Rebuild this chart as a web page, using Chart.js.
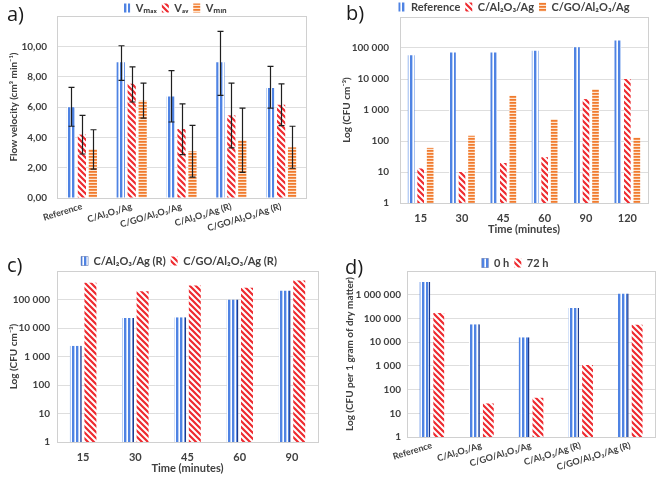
<!DOCTYPE html>
<html><head><meta charset="utf-8">
<script src="https://cdn.jsdelivr.net/npm/chart.js@4.4.1/dist/chart.umd.min.js"></script>
<style>
body{margin:0;background:#fff;width:661px;height:480px;position:relative;overflow:hidden}
canvas{position:absolute}
.pl{position:absolute;font-family:"Open Sans",sans-serif;font-size:20px;line-height:20px;color:#1a1a1a}
</style></head><body>
<canvas id="ca" width="330" height="240" style="left:0;top:0"></canvas>
<canvas id="cb" width="331" height="240" style="left:330px;top:0"></canvas>
<canvas id="cc" width="330" height="240" style="left:0;top:240px"></canvas>
<canvas id="cd" width="331" height="240" style="left:330px;top:240px"></canvas>
<div class="pl" style="left:7px;top:4px">a)</div>
<div class="pl" style="left:346px;top:3px">b)</div>
<div class="pl" style="left:7px;top:255px">c)</div>
<div class="pl" style="left:345px;top:257px">d)</div>
<script>
// ---- data ----
const catsA = ['Reference','C/Al₂O₃/Ag','C/GO/Al₂O₃/Ag','C/Al₂O₃/Ag (R)','C/GO/Al₂O₃/Ag (R)'];
const vmax     = [5.98, 8.95, 6.70, 8.95, 7.25];
const vmaxLow  = [4.73, 7.76, 5.01, 6.77, 5.93];
const vmaxHigh = [7.30, 10.04, 8.40, 10.99, 8.68];
const vav      = [4.18, 7.54, 4.55, 5.45, 6.15];
const vavLow   = [2.90, 6.33, 2.86, 3.30, 4.77];
const vavHigh  = [5.45, 8.64, 6.20, 7.58, 7.52];
const vmin     = [3.23, 6.42, 3.08, 3.80, 3.34];
const vminLow  = [1.91, 5.27, 1.38, 1.69, 1.96];
const vminHigh = [4.50, 7.58, 4.79, 5.93, 4.73];
const ticksA = [0, 2, 4, 6, 8, 10];

const timesB = ['15','30','45','60','90','120'];
const refB = [58000, 72000, 72000, 82000, 105000, 173000];
const alB  = [13, 10, 19.5, 30, 2250, 10000];
const goB  = [60, 148, 2900, 510, 4750, 130];

const timesC = ['15','30','45','60','90'];
const alRC = [2400, 22600, 23800, 100000, 208000];
const goRC = [385000, 196000, 310000, 257000, 466000];

const catsD = ['Reference','C/Al₂O₃/Ag','C/GO/Al₂O₃/Ag','C/Al₂O₃/Ag (R)','C/GO/Al₂O₃/Ag (R)'];
const h0D  = [3400000, 57000, 16200, 275000, 1120000];
const h72D = [168000, 26, 45, 1090, 54000];

const logTicks6 = [1, 10, 100, 1000, 10000, 100000, 1000000];
const logTicks7 = [1, 10, 100, 1000, 10000, 100000, 1000000, 10000000];

// ---- styles ----
const FONT = 'Lato, "Open Sans", sans-serif';
const TXT = '#404040';
const GRID = '#dedede';
function tile(w, h, fn){const c=document.createElement('canvas');c.width=w;c.height=h;const g=c.getContext('2d');fn(g,w,h);return g.createPattern(c,'repeat');}
const blueP = tile(4,1,g=>{['#4f83e3','#4f83e3','#b9cff5','#ffffff'].forEach((c,i)=>{g.fillStyle=c;g.fillRect(i,0,1,1);});});
const redP = tile(6,6,(g,w,h)=>{g.fillStyle='#fff';g.fillRect(0,0,w,h);g.strokeStyle='#ee2a2f';g.lineWidth=2.2;g.beginPath();for(const o of [-6,0,6]){g.moveTo(o-1,-1);g.lineTo(o+7,7);}g.stroke();});
const orP = tile(1,3,g=>{['#f07b2e','#f49455','#fde6d3'].forEach((c,i)=>{g.fillStyle=c;g.fillRect(0,i,1,1);});});

const fmt = v => String(v).replace(/\B(?=(\d{3})+(?!\d))/g,' ');

const frame = {id:'frame', beforeDatasetsDraw(c){const a=c.chartArea,x=c.ctx;x.save();x.strokeStyle='#d0d0d0';x.lineWidth=1;x.strokeRect(Math.round(a.left)+0.5,Math.round(a.top)+0.5,Math.round(a.right-a.left),Math.round(a.bottom-a.top));x.restore();}};
const legendPos = {id:'legendPos',
  beforeLayout(c){const l=c.legend;if(l&&!l._patched){const f=l.fit;l.fit=function(){f.call(this);this.height=0;};l._patched=true;}},
  afterLayout(c,args,o){const l=c.legend;if(!l||o.cx==null)return;const dx=o.cx-(l.left+l.right)/2;l.left+=dx;l.right+=dx;const lo=l.options.labels;const ih=Math.max(lo.font.size||11,lo.boxHeight);const dy=o.cy-(l.top+lo.padding+ih/2);l.top+=dy;l.bottom=l.top+ih+2*lo.padding;}};
const errBars = {id:'errBars', afterDatasetsDraw(c){const x=c.ctx,ys=c.scales.y;x.save();x.strokeStyle='#1f1f1f';x.lineWidth=1.2;c.data.datasets.forEach((d,i)=>{if(!d.errLow)return;const m=c.getDatasetMeta(i);m.data.forEach((b,j)=>{const px=Math.round(b.x)+0.5,y1=ys.getPixelForValue(d.errLow[j]),y2=ys.getPixelForValue(d.errHigh[j]);x.beginPath();x.moveTo(px,y1);x.lineTo(px,y2);x.moveTo(px-3,y1);x.lineTo(px+3,y1);x.moveTo(px-3,y2);x.lineTo(px+3,y2);x.stroke();});});x.restore();}};

function legendOpts(){return {position:'top',labels:{boxWidth:7,boxHeight:9,padding:5,font:{family:FONT,weight:'bold',size:11},color:TXT}};}
function tickFont(s){return {family:FONT,weight:'bold',size:s||10};}

function makeChart(id, o){
  return new Chart(document.getElementById(id), {
    type:'bar',
    data:{labels:o.labels, datasets:o.datasets},
    plugins:[frame, legendPos, errBars],
    options:{
      responsive:false, animation:false, devicePixelRatio:1,
      layout:{padding:{top:o.top,right:o.right,bottom:0,left:0}},
      plugins:{legend:legendOpts(), tooltip:{enabled:false}, legendPos:{cx:o.lcx,cy:o.lcy}},
      scales:{
        x:{grid:{display:false,drawTicks:false}, border:{display:false},
           ticks:Object.assign({font:tickFont(o.xfs),color:TXT,autoSkip:false,padding:o.xpad}, o.rot?{minRotation:o.rot,maxRotation:o.rot}:{}),
           title:o.xtitle?{display:true,text:o.xtitle,font:{family:FONT,weight:'bold',size:11},color:TXT,padding:{top:0,bottom:o.xtpad}}:{display:false},
           afterFit(s){s.height=o.xh;}},
        y:Object.assign({grid:{color:GRID,drawTicks:false}, border:{display:false},
           ticks:{font:tickFont(10),color:TXT,padding:o.ypad,callback:o.ycb},
           title:{display:true,text:o.ytitle,font:{family:FONT,weight:'bold',size:10},color:TXT,padding:{top:o.ytpad,bottom:0}},
           afterBuildTicks(s){s.ticks=o.yticks.map(v=>({value:v}));},
           afterFit(s){s.width=o.yw;}}, o.yscale)
      }
    }
  });
}

makeChart('ca', {
  labels:catsA,
  datasets:[
    {label:'Vₘₐₓ', data:vmax, errLow:vmaxLow, errHigh:vmaxHigh, backgroundColor:blueP, borderWidth:0, categoryPercentage:0.66, barPercentage:0.75},
    {label:'Vₐᵥ', data:vav, errLow:vavLow, errHigh:vavHigh, backgroundColor:redP, borderWidth:0, categoryPercentage:0.66, barPercentage:0.75},
    {label:'Vₘᵢₙ', data:vmin, errLow:vminLow, errHigh:vminHigh, backgroundColor:orP, borderWidth:0, categoryPercentage:0.66, barPercentage:0.75}
  ],
  top:16, right:24, xh:42, yw:57, rot:17, xfs:9, xpad:3,
  lcx:175, lcy:8,
  ytitle:'Flow velocity (cm³ min⁻¹)', ytpad:8, ypad:10,
  yticks:ticksA, ycb:v=>v.toFixed(2).replace('.',','),
  yscale:{min:0,max:12}
});

const logcb = max => (v => v>=max ? '' : fmt(v));

makeChart('cb', {
  labels:timesB,
  datasets:[
    {label:'Reference', data:refB, backgroundColor:blueP, borderWidth:0, categoryPercentage:0.69, barPercentage:0.7},
    {label:'C/Al₂O₃/Ag', data:alB, backgroundColor:redP, borderWidth:0, categoryPercentage:0.69, barPercentage:0.7},
    {label:'C/GO/Al₂O₃/Ag', data:goB, backgroundColor:orP, borderWidth:0, categoryPercentage:0.69, barPercentage:0.7}
  ],
  top:17, right:13, xh:37, yw:70, xfs:11, xpad:9, xtitle:'Time (minutes)', xtpad:4,
  lcx:184, lcy:7,
  ytitle:'Log (CFU cm⁻³)', ytpad:11, ypad:11,
  yticks:logTicks6, ycb:logcb(1000000),
  yscale:{type:'logarithmic',min:1,max:1000000}
});

const edge = {top:0,left:0,bottom:0,right:1.5};

makeChart('cc', {
  labels:timesC,
  datasets:[
    {label:'C/Al₂O₃/Ag (R)', data:alRC, backgroundColor:blueP, borderColor:'#1d3a8a', borderWidth:edge, borderSkipped:false, categoryPercentage:0.56, barPercentage:0.82},
    {label:'C/GO/Al₂O₃/Ag (R)', data:goRC, backgroundColor:redP, borderWidth:0, categoryPercentage:0.56, barPercentage:0.82}
  ],
  top:31, right:12, xh:38, yw:57, xfs:11, xpad:9, xtitle:'Time (minutes)', xtpad:5,
  lcx:179, lcy:21,
  ytitle:'Log (CFU cm⁻³)', ytpad:8, ypad:7,
  yticks:logTicks6, ycb:logcb(1000000),
  yscale:{type:'logarithmic',min:1,max:1000000}
});

makeChart('cd', {
  labels:catsD,
  datasets:[
    {label:'0 h', data:h0D, backgroundColor:blueP, borderColor:'#1d3a8a', borderWidth:edge, borderSkipped:false, categoryPercentage:0.56, barPercentage:0.78},
    {label:'72 h', data:h72D, backgroundColor:redP, borderWidth:0, categoryPercentage:0.56, barPercentage:0.78}
  ],
  top:31, right:6, xh:43, yw:77, rot:17, xfs:9, xpad:3,
  lcx:185, lcy:23,
  ytitle:'Log (CFU per 1 gram of dry matter)', ytpad:14, ypad:6,
  yticks:logTicks7, ycb:logcb(10000000),
  yscale:{type:'logarithmic',min:1,max:10000000}
});
</script>
</body></html>
